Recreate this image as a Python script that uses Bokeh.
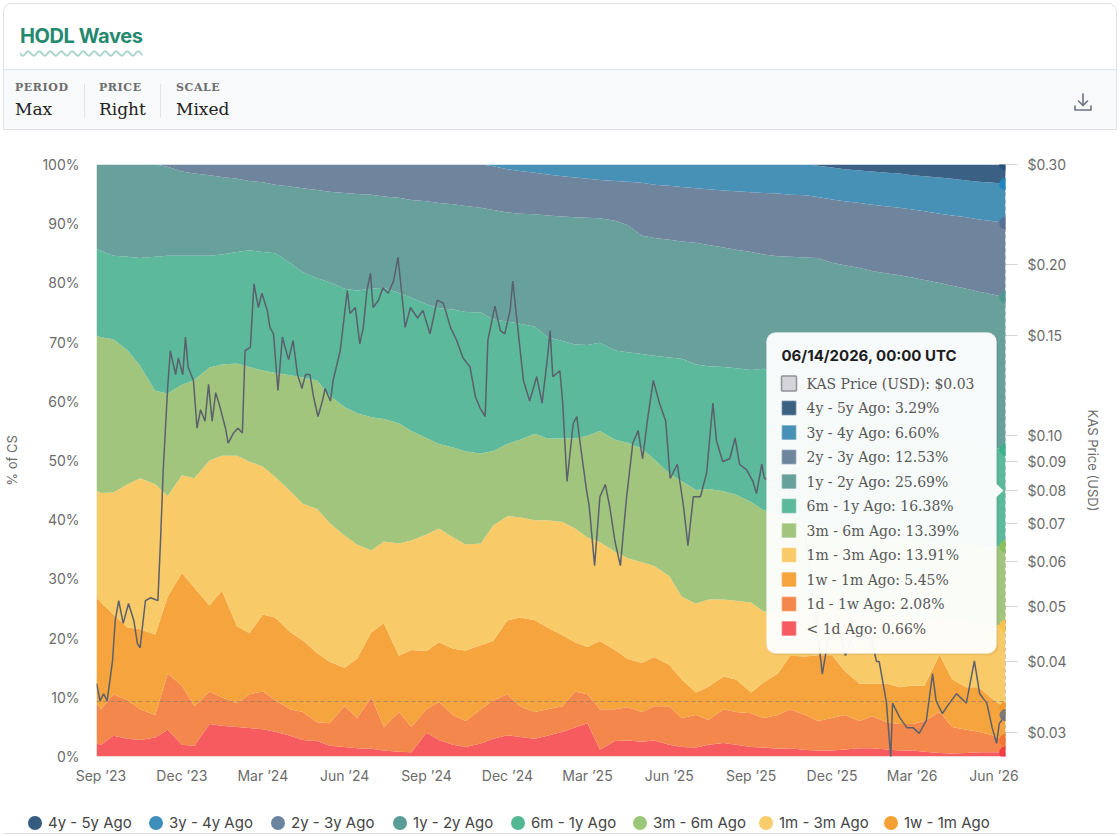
import numpy as np
import pandas as pd
from bokeh.plotting import figure
from bokeh.models import (Range1d, LogAxis, LogScale, FixedTicker, NumeralTickFormatter,
                          PrintfTickFormatter, DatetimeTickFormatter, Label, BoxAnnotation,
                          PolyAnnotation, Span, Div, ColumnDataSource)
from bokeh.layouts import column
from bokeh.embed import file_html
from bokeh.resources import INLINE

# ---------------------------------------------------------------- data
cohorts = ["< 1d Ago", "1d - 1w Ago", "1w - 1m Ago", "1m - 3m Ago", "3m - 6m Ago",
           "6m - 1y Ago", "1y - 2y Ago", "2y - 3y Ago", "3y - 4y Ago", "4y - 5y Ago"]

band_dates = [
    "2023-08-27", "2023-09-01", "2023-09-15", "2023-10-01", "2023-10-15", "2023-11-01", "2023-11-15",
    "2023-12-01", "2023-12-15", "2024-01-01", "2024-01-15", "2024-02-01", "2024-02-15", "2024-03-01",
    "2024-03-15", "2024-04-01", "2024-04-15", "2024-05-01", "2024-05-15", "2024-06-01", "2024-06-15",
    "2024-07-01", "2024-07-15", "2024-08-01", "2024-08-15", "2024-09-01", "2024-09-15", "2024-10-01",
    "2024-10-15", "2024-11-01", "2024-11-15", "2024-12-01", "2024-12-15", "2025-01-01", "2025-01-15",
    "2025-02-01", "2025-02-15", "2025-03-01", "2025-03-15", "2025-04-01", "2025-04-15", "2025-05-01",
    "2025-05-15", "2025-06-01", "2025-06-15", "2025-07-01", "2025-07-15", "2025-08-01", "2025-08-15",
    "2025-09-01", "2025-09-15", "2025-10-01", "2025-10-15", "2025-11-01", "2025-11-15", "2025-12-01",
    "2025-12-15", "2026-01-01", "2026-01-15", "2026-02-01", "2026-02-15", "2026-03-01", "2026-03-15",
    "2026-04-01", "2026-04-15", "2026-05-01", "2026-05-15", "2026-06-01", "2026-06-14"]

# cumulative share (% of CS) at the top edge of each cohort band
level_lt_1d = [2.2, 2.0, 3.5, 3.0, 2.8, 3.2, 4.5, 2.0, 1.8, 5.5,
               5.2, 5.0, 4.8, 4.6, 4.2, 3.5, 2.8, 2.6, 1.8, 1.6,
               1.4, 1.3, 1.0, 0.8, 0.7, 4.0, 2.8, 2.0, 1.6, 2.2,
               3.0, 3.6, 3.3, 3.0, 3.5, 4.2, 4.9, 5.6, 1.2, 2.6,
               2.7, 2.5, 2.7, 2.0, 1.6, 1.5, 2.0, 2.3, 2.0, 1.6,
               1.5, 1.3, 1.4, 1.1, 1.0, 1.0, 1.2, 1.4, 1.4, 1.2,
               1.0, 1.0, 0.8, 0.6, 0.5, 0.6, 0.7, 0.7, 0.66]
level_1d_1w = [9.0, 8.0, 10.5, 9.5, 8.0, 7.0, 14.0, 12.0, 8.5, 11.0,
               10.0, 9.0, 10.5, 11.0, 9.5, 8.0, 7.5, 5.8, 5.6, 8.5,
               6.5, 10.0, 5.0, 7.5, 5.0, 8.0, 9.2, 7.0, 6.0, 8.0,
               9.5, 10.5, 8.5, 7.5, 8.0, 8.5, 11.0, 10.5, 8.0, 8.0,
               8.3, 7.5, 8.5, 8.5, 6.5, 7.0, 6.2, 8.0, 7.5, 7.3,
               6.5, 7.0, 8.0, 7.0, 6.0, 6.5, 7.0, 6.0, 6.8, 5.8,
               5.5, 5.5, 6.0, 7.5, 5.0, 4.5, 4.2, 3.5, 2.74]
level_1w_1m = [26.9, 26.0, 24.0, 21.8, 21.5, 20.6, 27.0, 31.0, 28.5, 25.5,
               28.0, 22.0, 20.8, 24.0, 23.5, 21.0, 19.6, 17.5, 16.0, 15.0,
               16.5, 21.0, 22.5, 17.0, 18.0, 17.8, 19.3, 18.2, 17.9, 18.8,
               19.5, 23.0, 23.5, 23.0, 21.8, 20.5, 19.3, 18.5, 19.5, 18.0,
               16.5, 15.8, 16.8, 15.5, 13.0, 10.8, 11.8, 13.5, 13.0, 10.8,
               12.5, 14.0, 17.0, 16.9, 17.1, 17.1, 14.5, 12.3, 12.3, 12.3,
               11.7, 12.0, 12.0, 17.2, 13.0, 11.7, 11.7, 9.5, 8.19]
level_1m_3m = [44.9, 44.5, 44.6, 46.0, 47.0, 46.0, 44.0, 47.5, 47.0, 50.0,
               50.8, 50.8, 49.8, 49.0, 47.2, 44.8, 42.7, 41.8, 39.5, 37.3,
               35.8, 34.8, 36.3, 36.0, 36.5, 37.5, 38.5, 37.0, 35.8, 36.0,
               39.0, 40.6, 40.4, 39.9, 39.9, 39.6, 38.5, 37.0, 36.2, 34.6,
               33.5, 32.8, 32.2, 30.5, 27.0, 25.8, 26.5, 26.5, 26.3, 26.0,
               24.5, 24.5, 24.8, 25.0, 25.5, 25.0, 24.5, 24.0, 24.0, 23.5,
               23.5, 23.5, 23.0, 23.5, 23.0, 22.8, 22.5, 22.3, 22.10]
level_3m_6m = [71.1, 70.8, 70.5, 68.6, 66.0, 61.8, 61.3, 62.8, 63.6, 65.7,
               66.2, 66.4, 65.8, 65.2, 64.8, 64.4, 64.0, 63.5, 61.0, 59.0,
               58.0, 57.3, 57.0, 56.3, 55.0, 53.8, 52.8, 52.2, 51.5, 51.2,
               51.6, 52.8, 53.5, 54.5, 53.7, 53.7, 53.7, 54.2, 55.0, 53.5,
               53.0, 52.0, 50.2, 47.8, 46.5, 45.0, 45.2, 44.8, 44.2, 43.0,
               41.6, 41.0, 40.2, 39.5, 39.0, 38.5, 38.0, 37.8, 37.5, 37.0,
               36.8, 36.5, 36.3, 36.0, 35.8, 35.8, 35.6, 35.5, 35.49]
level_6m_1y = [85.8, 85.4, 84.6, 84.4, 84.2, 84.4, 84.6, 84.6, 84.6, 84.6,
               84.8, 85.2, 85.5, 85.2, 85.0, 83.3, 81.8, 80.8, 80.1, 79.0,
               78.7, 79.0, 79.2, 78.3, 77.5, 76.4, 75.7, 75.5, 75.1, 75.0,
               73.8, 73.5, 73.1, 72.6, 70.8, 70.2, 69.6, 69.5, 69.9, 68.6,
               68.3, 68.0, 67.7, 67.4, 67.2, 66.2, 65.9, 65.8, 65.6, 65.3,
               65.5, 64.5, 63.5, 62.3, 61.0, 60.0, 59.0, 58.0, 57.2, 56.5,
               55.8, 55.0, 54.5, 54.0, 53.4, 53.0, 52.6, 52.1, 51.87]
level_1y_2y = [100.0, 100.0, 100.0, 100.0, 100.0, 100.0, 99.6, 98.8, 98.5, 98.2,
               97.9, 97.6, 97.2, 97.0, 96.6, 96.3, 96.0, 95.7, 95.4, 95.2,
               95.0, 94.9, 94.6, 94.4, 94.0, 93.8, 93.5, 93.3, 93.0, 92.7,
               92.3, 91.9, 91.7, 91.6, 91.4, 91.2, 91.1, 91.0, 90.9, 90.5,
               89.8, 88.0, 87.6, 87.3, 87.0, 86.8, 86.4, 86.0, 85.6, 85.2,
               84.8, 84.5, 84.4, 84.3, 84.2, 83.4, 83.0, 82.5, 82.0, 81.6,
               81.3, 80.9, 80.5, 80.0, 79.5, 79.0, 78.5, 78.0, 77.56]
level_2y_3y = [100.0, 100.0, 100.0, 100.0, 100.0, 100.0, 100.0, 100.0, 100.0, 100.0,
               100.0, 100.0, 100.0, 100.0, 100.0, 100.0, 100.0, 100.0, 100.0, 100.0,
               100.0, 100.0, 100.0, 100.0, 100.0, 100.0, 100.0, 100.0, 100.0, 100.0,
               99.7, 99.2, 98.9, 98.6, 98.3, 98.0, 97.8, 97.6, 97.4, 97.2,
               97.1, 96.9, 96.6, 96.4, 96.2, 96.0, 95.8, 95.6, 95.5, 95.3,
               95.2, 95.1, 94.9, 94.8, 94.5, 94.1, 93.8, 93.5, 93.2, 92.9,
               92.7, 92.4, 92.1, 91.7, 91.4, 91.1, 90.7, 90.4, 90.09]
level_3y_4y = [100.0, 100.0, 100.0, 100.0, 100.0, 100.0, 100.0, 100.0, 100.0, 100.0,
               100.0, 100.0, 100.0, 100.0, 100.0, 100.0, 100.0, 100.0, 100.0, 100.0,
               100.0, 100.0, 100.0, 100.0, 100.0, 100.0, 100.0, 100.0, 100.0, 100.0,
               100.0, 100.0, 100.0, 100.0, 100.0, 100.0, 100.0, 100.0, 100.0, 100.0,
               100.0, 100.0, 100.0, 100.0, 100.0, 100.0, 100.0, 100.0, 100.0, 100.0,
               100.0, 100.0, 100.0, 100.0, 99.8, 99.5, 99.2, 99.0, 98.8, 98.6,
               98.5, 98.2, 98.0, 97.8, 97.6, 97.3, 97.1, 96.9, 96.69]
level_4y_5y = [100.0, 100.0, 100.0, 100.0, 100.0, 100.0, 100.0, 100.0, 100.0, 100.0,
               100.0, 100.0, 100.0, 100.0, 100.0, 100.0, 100.0, 100.0, 100.0, 100.0,
               100.0, 100.0, 100.0, 100.0, 100.0, 100.0, 100.0, 100.0, 100.0, 100.0,
               100.0, 100.0, 100.0, 100.0, 100.0, 100.0, 100.0, 100.0, 100.0, 100.0,
               100.0, 100.0, 100.0, 100.0, 100.0, 100.0, 100.0, 100.0, 100.0, 100.0,
               100.0, 100.0, 100.0, 100.0, 100.0, 100.0, 100.0, 100.0, 100.0, 100.0,
               100.0, 100.0, 100.0, 100.0, 100.0, 100.0, 100.0, 100.0, 99.98]

# KAS price: days since 2023-08-27 and USD price
price_day = [0, 4, 8, 12, 18, 21, 25, 30, 36, 42,
             46, 49, 55, 61, 69, 72, 75, 80, 83, 89,
             92, 97, 100, 103, 109, 113, 117, 122, 126, 130,
             134, 139, 145, 148, 154, 159, 164, 167, 173, 177,
             182, 186, 192, 195, 199, 204, 209, 212, 216, 221,
             226, 231, 235, 240, 244, 249, 254, 257, 263, 266,
             274, 282, 285, 291, 296, 300, 304, 308, 311, 317,
             322, 328, 334, 339, 344, 347, 353, 361, 367, 375,
             383, 390, 398, 405, 412, 420, 426, 431, 437, 440,
             448, 454, 459, 465, 468, 473, 480, 487, 495, 501,
             507, 510, 513, 521, 524, 529, 536, 540, 543, 551,
             554, 560, 566, 572, 577, 583, 589, 596, 603, 609,
             614, 620, 626, 633, 640, 645, 653, 660, 665, 671,
             679, 686, 693, 697, 704, 712, 718, 723, 731, 738,
             742, 748, 751, 763, 774, 785, 796, 807, 816, 824,
             833, 842, 852, 864, 871, 877, 880, 888, 893, 895,
             903, 911, 918, 925, 933, 940, 944, 951, 959, 967,
             978, 987, 993, 1001, 1007, 1012, 1015, 1022]
price_usd = [0.0366, 0.0341, 0.0351, 0.0341, 0.0401, 0.0472, 0.0512, 0.0467, 0.0506, 0.0472,
             0.0430, 0.0423, 0.0512, 0.0518, 0.0512, 0.0653, 0.0868, 0.1215, 0.141, 0.128,
             0.137, 0.128, 0.149, 0.132, 0.125, 0.103, 0.111, 0.106, 0.123, 0.106,
             0.119, 0.112, 0.103, 0.097, 0.101, 0.103, 0.101, 0.141, 0.143, 0.185,
             0.168, 0.178, 0.166, 0.155, 0.151, 0.120, 0.149, 0.143, 0.136, 0.147,
             0.128, 0.121, 0.128, 0.128, 0.117, 0.108, 0.115, 0.121, 0.115, 0.125,
             0.141, 0.180, 0.164, 0.168, 0.145, 0.155, 0.180, 0.193, 0.168, 0.173,
             0.182, 0.178, 0.187, 0.206, 0.173, 0.155, 0.168, 0.161, 0.166, 0.151,
             0.173, 0.171, 0.155, 0.147, 0.137, 0.132, 0.117, 0.112, 0.108, 0.147,
             0.169, 0.153, 0.151, 0.166, 0.187, 0.158, 0.125, 0.115, 0.127, 0.114,
             0.137, 0.153, 0.127, 0.130, 0.115, 0.083, 0.105, 0.108, 0.099, 0.080,
             0.075, 0.059, 0.078, 0.082, 0.075, 0.065, 0.059, 0.078, 0.097, 0.102,
             0.091, 0.108, 0.125, 0.114, 0.106, 0.084, 0.089, 0.075, 0.064, 0.078,
             0.078, 0.086, 0.114, 0.098, 0.090, 0.091, 0.099, 0.089, 0.087, 0.083,
             0.079, 0.089, 0.084, 0.083, 0.087, 0.071, 0.068, 0.051, 0.038, 0.045,
             0.047, 0.041, 0.045, 0.044, 0.044, 0.040, 0.040, 0.034, 0.0271, 0.0338,
             0.0319, 0.0306, 0.0306, 0.0299, 0.0315, 0.0381, 0.0341, 0.0324, 0.0338, 0.0351,
             0.0338, 0.0401, 0.0351, 0.0338, 0.0306, 0.0287, 0.0311, 0.0322]

pct_ticks = [0, 10, 20, 30, 40, 50, 60, 70, 80, 90, 100]
price_ticks = [0.03, 0.04, 0.05, 0.06, 0.07, 0.08, 0.09, 0.10, 0.15, 0.20, 0.30]
date_ticks = ["2023-09-01", "2023-12-01", "2024-03-01", "2024-06-01", "2024-09-01", "2024-12-01",
              "2025-03-01", "2025-06-01", "2025-09-01", "2025-12-01", "2026-03-01", "2026-06-01"]

control_names = ["PERIOD", "PRICE", "SCALE"]
control_values = ["Max", "Right", "Mixed"]

# ---------------------------------------------------------------- styles
band_colors = ["#f65b5f", "#f4874b", "#f6a53e", "#f9ca68", "#a2c57e",
               "#5cb99b", "#68a19c", "#6f859e", "#4891b6", "#3a6184"]
dot_colors = ["#f23c46", "#f47531", "#f59a26", "#f7c24c", "#88c05e",
              "#39b38a", "#4c9a94", "#566f92", "#2185c0", "#27507c"]
legend_colors = ["#f0434b", "#f47a3a", "#f5a033", "#f9cd6a", "#9bc878",
                 "#52b891", "#5a9c98", "#6b84a0", "#3f8fbd", "#355b80"]
TXT = "#6b6b6b"

levels = [level_lt_1d, level_1d_1w, level_1w_1m, level_1m_3m, level_3m_6m,
          level_6m_1y, level_1y_2y, level_2y_3y, level_3y_4y, level_4y_5y]
for lv in levels:
    assert len(lv) == len(band_dates)
assert len(price_day) == len(price_usd)

t_band = pd.to_datetime(band_dates)
start = t_band[0]
end = t_band[-1]
t_price = start + pd.to_timedelta(price_day, unit="D")


def ms(ts):
    return pd.Timestamp(ts).value / 1e6


start_ms, end_ms = ms(start), ms(end)

# page-pixel helpers for the static hover card (annotation placement only)
FX0, FX1, FY0, FY1 = 96.0, 1005.0, 756.0, 164.0


def tx(px):
    return start_ms + (px - FX0) / (FX1 - FX0) * (end_ms - start_ms)


def ty(py):
    return (FY0 - py) / (FY0 - FY1) * 100.0


# ---------------------------------------------------------------- figure
p = figure(width=1120, height=670, x_axis_type="datetime",
           x_range=Range1d(start_ms, end_ms), y_range=Range1d(0, 100),
           output_backend="svg", toolbar_location=None,
           min_border_left=96, min_border_right=115, min_border_top=34, min_border_bottom=44)
p.background_fill_color = "white"
p.border_fill_color = "white"
p.outline_line_color = None
p.xgrid.visible = False
p.ygrid.visible = False

lower = [0.0] * len(band_dates)
for lv, col in zip(levels, band_colors):
    p.varea(x=t_band, y1=lower, y2=lv, fill_color=col, fill_alpha=1.0)
    lower = lv

# left axis
ya = p.yaxis[0]
ya.ticker = FixedTicker(ticks=pct_ticks)
ya.formatter = PrintfTickFormatter(format="%d%%")
ya.axis_label = "% of CS"
ya.axis_line_color = None
ya.major_tick_line_color = None
ya.minor_tick_line_color = None
ya.major_label_standoff = 11
ya.axis_label_standoff = 19
ya.major_label_text_font = "Inter"
ya.major_label_text_font_size = "14px"
ya.major_label_text_color = TXT
ya.axis_label_text_font = "Inter"
ya.axis_label_text_font_size = "13px"
ya.axis_label_text_font_style = "normal"
ya.axis_label_text_color = TXT

# bottom axis
xa = p.xaxis[0]
xa.ticker = FixedTicker(ticks=[ms(d) for d in date_ticks])
fmt = "%b \u2019%y"
xa.formatter = DatetimeTickFormatter(days=fmt, months=fmt, years=fmt)
xa.axis_line_color = None
xa.major_tick_line_color = None
xa.minor_tick_line_color = None
xa.major_tick_out = 0
xa.major_tick_in = 0
xa.major_label_standoff = 10
xa.major_label_text_font = "Inter"
xa.major_label_text_font_size = "14px"
xa.major_label_text_color = TXT

# right (price) axis
p.extra_y_ranges = {"price": Range1d(0.02722, 0.30)}
p.extra_y_scales = {"price": LogScale()}
ra = LogAxis(y_range_name="price", ticker=FixedTicker(ticks=price_ticks),
             formatter=NumeralTickFormatter(format="$0.00"), axis_label="KAS Price (USD)")
ra.axis_line_color = None
ra.major_tick_out = 12
ra.major_tick_in = 0
ra.major_tick_line_color = "#d4d4d4"
ra.minor_tick_line_color = None
ra.major_label_standoff = 10
ra.axis_label_standoff = 15
ra.major_label_text_font = "Inter"
ra.major_label_text_font_size = "14px"
ra.major_label_text_color = TXT
ra.axis_label_text_font = "Inter"
ra.axis_label_text_font_size = "13px"
ra.axis_label_text_font_style = "normal"
ra.axis_label_text_color = TXT
p.add_layout(ra, "right")

# price line
p.line(x=t_price, y=price_usd, y_range_name="price", line_color="#5b606c", line_width=1.5)

# crosshair
p.add_layout(Span(location=end_ms, dimension="height", line_color="#7a7a7a",
                  line_dash="4 3", line_width=1, line_alpha=0.8))
p.add_layout(Span(location=ty(701), dimension="width", line_color="#7a7a7a",
                  line_dash="4 3", line_width=1, line_alpha=0.6))

# hover dots at last date
last_levels = [lv[-1] for lv in levels]
dots = ColumnDataSource(dict(x=[end_ms] * len(levels), y=last_levels, c=dot_colors))
p.scatter(x="x", y="y", source=dots, size=12, fill_color="c", line_color="c", line_width=0.5)
p.scatter(x=[end_ms], y=[price_usd[-1]], y_range_name="price", size=11,
          fill_color="#70757f", line_color="#70757f", fill_alpha=0.9)

# ---------------------------------------------------------------- hover card
p.add_layout(BoxAnnotation(left=tx(768), right=tx(998), top=ty(334), bottom=ty(655),
                           fill_color="#000000", fill_alpha=0.05, line_color=None,
                           border_radius=9))
p.add_layout(BoxAnnotation(left=tx(766), right=tx(996), top=ty(332), bottom=ty(653),
                           fill_color="white", fill_alpha=0.95, line_color="#e6e8eb",
                           line_width=1, border_radius=9))
p.add_layout(PolyAnnotation(xs=[tx(995.5), tx(1003), tx(995.5)], ys=[ty(483), ty(490), ty(497)],
                            fill_color="white", fill_alpha=0.95, line_color=None))
p.add_layout(Label(x=tx(781), y=ty(355), text=end.strftime("%m/%d/%Y, %H:%M UTC"),
                   text_font="Inter", text_font_size="15px", text_font_style="bold",
                   text_color="#1c1c1c", text_baseline="middle"))

shares = np.diff([0.0] + last_levels)
rows = [("KAS Price (USD): $%.2f" % price_usd[-1], "#d3d5da")]
for name, share, col in zip(cohorts[::-1], shares[::-1], band_colors[::-1]):
    rows.append(("%s: %.2f%%" % (name, share), col))
for i, (txt, fc) in enumerate(rows):
    cy = 383 + 24.5 * i
    p.add_layout(BoxAnnotation(left=tx(781), right=tx(796), top=ty(cy - 7.5), bottom=ty(cy + 7.5),
                               fill_color=fc, fill_alpha=1.0,
                               line_color=("#8e9198" if i == 0 else "white"),
                               line_alpha=(1.0 if i == 0 else 0.45), line_width=1.5,
                               border_radius=1))
    p.add_layout(Label(x=tx(806), y=ty(cy), text=txt, text_font="DejaVu Serif",
                       text_font_size="14px", text_color="#575757", text_baseline="middle"))

# ---------------------------------------------------------------- header (card top + controls)
ctrl_lefts = [11, 95, 172]
ctrl = ""
for nm, val, lx in zip(control_names, control_values, ctrl_lefts):
    ctrl += (f'<div style="position:absolute;left:{lx}px;top:77px;font-family:\'DejaVu Serif\',serif;'
             f'font-weight:700;font-size:11px;line-height:14px;letter-spacing:0.6px;color:#6e6e6e;">{nm}</div>'
             f'<div style="position:absolute;left:{lx}px;top:94px;font-family:\'DejaVu Serif\',serif;'
             f'font-size:17px;line-height:22px;color:#222;">{val}</div>')
for sx in [80, 156]:
    ctrl += f'<div style="position:absolute;left:{sx}px;top:80px;width:1px;height:34px;background:#e2e4e7;"></div>'

header_html = (
    '<div style="position:relative;width:1120px;height:130px;background:#ffffff;">'
    '<div style="position:absolute;left:3px;top:3px;width:1114px;height:127px;box-sizing:border-box;'
    'border:1px solid #dfe2e6;border-bottom:none;border-radius:9px 9px 0 0;background:#ffffff;overflow:hidden;">'
    '<div style="position:absolute;left:16px;top:19px;font-family:Inter,sans-serif;font-weight:700;'
    'font-size:20px;line-height:26px;color:#25896f;letter-spacing:-0.4px;white-space:nowrap;'
    'text-decoration:underline wavy #a9d5cb;text-decoration-thickness:1.5px;text-underline-offset:7px;">'
    'HODL Waves</div>'
    '<div style="position:absolute;left:0;top:65px;width:1112px;height:61px;box-sizing:border-box;'
    'background:#f8f9fa;border-top:1px solid #dfe2e6;border-bottom:1px solid #dfe2e6;"></div>'
    + ctrl +
    '<svg style="position:absolute;left:1068px;top:87px" width="22" height="22" viewBox="0 0 22 22" '
    'fill="none" stroke="#6b7280" stroke-width="1.6" stroke-linecap="round" stroke-linejoin="round">'
    '<path d="M11 3v11"/><path d="M6.5 10l4.5 4.5 4.5-4.5"/><path d="M3 15v4h16v-4"/></svg>'
    '</div></div>')
header = Div(text=header_html, width=1120, height=130, margin=(0, 0, 0, 0))

# ---------------------------------------------------------------- legend (first row, HTML)
legend_order = list(range(len(cohorts)))[::-1][:8]
circle_x = [35, 156, 278, 400, 518, 640, 766, 891]
leg = '<div style="position:relative;width:1120px;height:36px;background:#ffffff;">'
for k, cx in zip(legend_order, circle_x):
    leg += (f'<div style="position:absolute;left:{cx - 7}px;top:16px;width:14px;height:14px;'
            f'border-radius:50%;background:{legend_colors[k]};"></div>'
            f'<div style="position:absolute;left:{cx + 13}px;top:13px;line-height:20px;font-family:Inter,sans-serif;'
            f'font-size:15px;color:#454545;white-space:nowrap;">{cohorts[k]}</div>')
leg += '<div style="position:absolute;left:3px;top:33px;width:1114px;height:1px;background:#dfe2e6;"></div></div>'
legend_div = Div(text=leg, width=1120, height=36, margin=(0, 0, 0, 0))

layout = column(header, p, legend_div, spacing=0)
open("out.html", "w").write(file_html(layout, INLINE))
